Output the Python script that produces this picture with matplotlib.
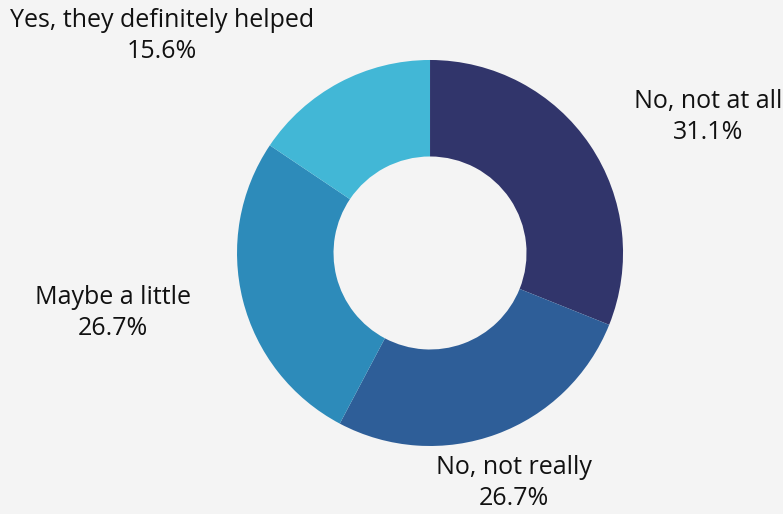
import matplotlib.pyplot as plt

# survey answers, clockwise from 12 o'clock
answers = ["No, not at all", "No, not really", "Maybe a little", "Yes, they definitely helped"]
shares = [31.1, 26.7, 26.7, 15.6]
colors = ["#31356b", "#2e5e98", "#2d8bba", "#42b7d6"]

# label anchor points (data units, outer radius = 1)
label_xy = [(1.44, 0.705), (0.435, -1.192), (-1.642, -0.311), (-1.389, 1.124)]

plt.rcParams['font.family'] = ['Open Sans', 'DejaVu Sans']

fig = plt.figure(figsize=(7.83, 5.14), dpi=100, facecolor="#f4f4f4")
ax = fig.add_axes([0.3027, 0.1323, 0.493, 0.751])
ax.set_facecolor("#f4f4f4")

ax.pie(shares, colors=colors, startangle=90, counterclock=False,
       radius=1.0, wedgeprops=dict(width=0.5, linewidth=0))

for name, val, (x, y) in zip(answers, shares, label_xy):
    ax.text(x, y, f"{name}\n{val:.1f}%", ha="center", va="center",
            fontsize=18, color="#111111", linespacing=1.3, clip_on=False)

ax.set_xlim(-1, 1)
ax.set_ylim(-1, 1)
ax.axis("off")

fig.savefig("out.png", dpi=100, facecolor=fig.get_facecolor())
